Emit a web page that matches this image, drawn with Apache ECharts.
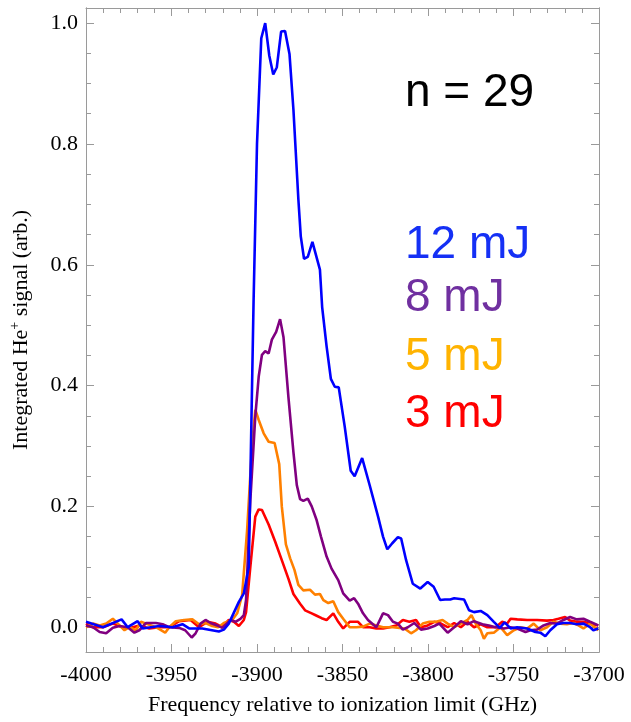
<!DOCTYPE html>
<html><head><meta charset="utf-8">
<script src="https://cdn.jsdelivr.net/npm/echarts@6/dist/echarts.min.js"></script>
<style>html,body{margin:0;padding:0;background:#fff}#c{width:631px;height:722px}</style>
</head><body><div id="c"></div>
<script>
// ---- data (frequency in GHz relative to ionization limit, integrated He+ signal) ----
const blueX = [-4000,-3990.1,-3979.2,-3975.6,-3969.8,-3966.9,-3957.2,-3949.4,-3943.6,-3939.7,-3932.0,-3922.3,-3919.4,-3916.5,-3910.6,-3907.7,-3904.8,-3902.0,-3900.0,-3897.5,-3895.2,-3892.8,-3890.5,-3888.4,-3885.9,-3883.6,-3881.0,-3878.7,-3875.8,-3874.4,-3872.5,-3870.3,-3867.6,-3863.2,-3861.9,-3859.3,-3856.8,-3854.5,-3852.2,-3848.7,-3845.2,-3842.9,-3838.5,-3834.1,-3829.2,-3826.3,-3823.8,-3820.9,-3817.6,-3815.7,-3812.8,-3808.9,-3804.5,-3800.2,-3796.7,-3792.9,-3790.1,-3787.0,-3784.7,-3778.9,-3776.0,-3773.1,-3769.2,-3765.3,-3761.5,-3758.0,-3755.2,-3751.7,-3747.9,-3742.0,-3737.2,-3734.3,-3731.4,-3728.5,-3724.6,-3720.8,-3716.9,-3713.0,-3709.1,-3705.2,-3703.3,-3700.4];
const blueY = [0.009,0,0.013,0,0.01,-0.002,0.002,0,0.005,-0.002,-0.002,-0.007,-0.004,0.006,0.042,0.056,0.10,0.54,0.80,0.975,1.0,0.946,0.915,0.927,0.986,0.987,0.949,0.857,0.708,0.647,0.61,0.613,0.638,0.592,0.53,0.465,0.411,0.398,0.397,0.332,0.259,0.25,0.28,0.235,0.183,0.15,0.129,0.139,0.149,0.147,0.111,0.072,0.064,0.075,0.067,0.045,0.046,0.046,0.048,0.046,0.028,0.025,0.027,0.02,0.009,-0.001,0.008,-0.002,0,-0.002,-0.008,-0.009,-0.015,-0.005,0.005,0.007,0.007,0.005,0.006,0,-0.005,-0.002];

const purpleX = [-4000,-3995.9,-3992.0,-3988.2,-3984.3,-3980.4,-3975.6,-3971.7,-3968.8,-3964.9,-3959.1,-3955.2,-3951.3,-3945.5,-3942.0,-3938.2,-3935.9,-3933.0,-3930.1,-3927.2,-3923.3,-3920.3,-3915.5,-3912.6,-3909.7,-3907.7,-3906.4,-3903.9,-3901.0,-3899.0,-3897.1,-3895.2,-3893.2,-3891.3,-3888.8,-3886.5,-3884.5,-3881.6,-3878.7,-3876.7,-3874.8,-3872.9,-3870.3,-3868.0,-3865.1,-3862.6,-3859.3,-3856.4,-3852.5,-3849.6,-3845.8,-3843.2,-3840.9,-3838.0,-3835.1,-3830.2,-3826.3,-3823.4,-3820.5,-3817.6,-3814.7,-3811.8,-3808.0,-3804.1,-3800.2,-3796.3,-3793.4,-3788.5,-3784.7,-3780.8,-3776.9,-3773.1,-3768.2,-3764.4,-3760.5,-3755.6,-3751.7,-3747.8,-3743.0,-3740.1,-3736.2,-3732.4,-3728.5,-3724.6,-3720.8,-3716.9,-3713.0,-3709.1,-3705.2,-3700.4];
const purpleY = [0.003,0,-0.008,-0.01,-0.001,0.002,0,-0.009,-0.005,0.007,0.007,0.005,0,-0.001,-0.005,-0.017,-0.01,0.006,0.012,0.007,0.003,-0.001,0.012,0.009,0.014,0.02,0.045,0.21,0.349,0.415,0.451,0.457,0.453,0.476,0.489,0.51,0.48,0.38,0.29,0.235,0.212,0.209,0.213,0.2,0.177,0.15,0.117,0.097,0.078,0.056,0.044,0.048,0.039,0.023,0.012,0,0.023,0.02,0.009,0.006,-0.004,0,0.007,-0.004,-0.002,0.002,0.006,-0.009,0,0.01,0.005,0.01,0.005,0.003,0,-0.002,0,-0.002,-0.008,-0.005,-0.004,0.003,0.007,0.006,0.012,0.017,0.013,0.014,0.009,0.003];

const orangeX = [-4000,-3995.9,-3992.0,-3988.2,-3984.3,-3981.4,-3977.5,-3974.6,-3970.8,-3967.8,-3964.9,-3959.1,-3953.7,-3951.3,-3947.5,-3942.6,-3937.8,-3933.9,-3930.1,-3926.2,-3922.7,-3919.4,-3914.5,-3911.6,-3908.7,-3905.8,-3902.9,-3901.0,-3899.0,-3896.1,-3893.2,-3889.7,-3887.0,-3885.5,-3883.1,-3880.6,-3878.1,-3875.8,-3872.9,-3869.0,-3866.1,-3863.2,-3861.2,-3858.3,-3855.4,-3852.5,-3849.6,-3845.8,-3841.9,-3838.0,-3834.1,-3830.2,-3826.3,-3820.5,-3816.7,-3813.8,-3809.9,-3807.0,-3803.1,-3799.2,-3795.3,-3791.5,-3788.5,-3784.7,-3780.8,-3776.9,-3774.6,-3772.1,-3769.2,-3767.3,-3765.3,-3761.5,-3757.6,-3753.7,-3749.8,-3745.9,-3742.0,-3738.2,-3734.3,-3730.4,-3726.6,-3722.7,-3718.8,-3714.9,-3712.0,-3709.1,-3705.2,-3700.4];
const orangeY = [0,0.006,0.003,0.006,0.014,0.006,-0.005,0,-0.005,0.009,0.006,0,-0.009,0,0.01,0.012,0.013,0.005,0.007,0.002,0,0.007,0.012,0.023,0.053,0.16,0.3,0.36,0.343,0.321,0.307,0.305,0.27,0.2,0.137,0.114,0.095,0.07,0.061,0.062,0.054,0.055,0.045,0.04,0.043,0.025,0.014,0,0,0.001,0.006,0.003,0,0,-0.001,-0.002,-0.01,-0.005,0.006,0.009,0.009,0.012,0.006,0,0.006,0.012,0.02,0.006,-0.005,-0.019,-0.01,-0.009,0,-0.013,-0.005,0,-0.002,0.006,-0.005,0,0.009,0.006,0.005,0.007,0.003,-0.002,0.006,-0.005];

const redX = [-4000,-3995.9,-3990.1,-3984.3,-3978.5,-3973.7,-3968.8,-3963.0,-3957.2,-3951.3,-3945.5,-3938.8,-3933.9,-3929.1,-3924.2,-3920.3,-3916.5,-3913.5,-3910.6,-3907.7,-3906.4,-3903.9,-3901.0,-3899.0,-3897.1,-3893.2,-3889.4,-3885.5,-3881.6,-3878.7,-3874.8,-3871.9,-3868.0,-3865.1,-3862.2,-3859.3,-3855.4,-3852.5,-3849.6,-3845.8,-3840.9,-3838.0,-3834.1,-3830.2,-3826.3,-3822.5,-3818.6,-3814.7,-3810.9,-3807.0,-3804.1,-3800.2,-3796.3,-3792.4,-3788.5,-3784.7,-3780.8,-3776.9,-3773.1,-3769.2,-3765.3,-3760.5,-3756.6,-3753.7,-3751.7,-3747.8,-3742.0,-3736.2,-3730.4,-3726.6,-3723.7,-3719.8,-3716.9,-3713.0,-3709.1,-3705.2,-3700.4];
const redY = [0.006,0,0,0.006,0,-0.001,0.003,-0.002,0,0,0.01,0.012,0,0.009,0.006,0,0.012,0.009,0.002,0.012,0.025,0.1,0.183,0.195,0.194,0.17,0.142,0.111,0.08,0.055,0.039,0.028,0.023,0.019,0.015,0.012,0.023,0.009,-0.002,0.009,0.009,0,0,-0.002,-0.002,0,0.003,0.012,0.009,0.012,0,0.003,0.009,0.006,0,0.007,0,0.009,0,0.005,0,0,0.009,0.006,0.014,0.013,0.012,0.012,0.011,0.012,0.014,0.017,0.011,0.009,0.009,0.006,0.003];

const yTickLabels = [0, 0.2, 0.4, 0.6, 0.8, 1.0];
const yMinorTicks = [0.05,0.1,0.15,0.25,0.3,0.35,0.45,0.5,0.55,0.65,0.7,0.75,0.85,0.9,0.95];
const annotations = [
  {text: 'n = 29', color: '#000000'},
  {text: '12 mJ', color: '#1530F5'},
  {text: '8 mJ', color: '#7030A0'},
  {text: '5 mJ', color: '#FFB300'},
  {text: '3 mJ', color: '#FF0000'}
];

// ---- build ----
const pair = (xs, ys) => xs.map((x, i) => [x, ys[i]]);
const serif = 'Liberation Serif';
const axisGray = '#9a9a9a';
const YMIN = -0.041, YMAX = 1.025;

function yAx(pos, values, len, labels) {
  return {
    type: 'value', position: pos, min: YMIN, max: YMAX,
    axisLine: {show: true, onZero: false, lineStyle: {color: axisGray, width: 1}},
    axisTick: {show: true, inside: true, length: len, customValues: values, lineStyle: {color: axisGray}},
    axisLabel: labels ? {show: true, customValues: values, formatter: v => v.toFixed(1), fontFamily: serif, fontSize: 22, color: '#000', margin: 8} : {show: false},
    splitLine: {show: false}
  };
}
function xAx(pos, labels) {
  return {
    type: 'value', position: pos, min: -4000, max: -3700, interval: 50,
    axisLine: {show: true, onZero: false, lineStyle: {color: axisGray, width: 1}},
    axisTick: {show: true, inside: true, length: 8, lineStyle: {color: axisGray}},
    minorTick: {show: true, splitNumber: 5, length: 5, lineStyle: {color: axisGray}},
    axisLabel: labels ? {show: true, formatter: v => String(Math.round(v)), fontFamily: serif, fontSize: 22, color: '#000', margin: 12} : {show: false},
    splitLine: {show: false}, minorSplitLine: {show: false}
  };
}

const xAxes = [xAx('bottom', true), xAx('top', false)];
xAxes[0].name = 'Frequency relative to ionization limit (GHz)';
xAxes[0].nameLocation = 'middle';
xAxes[0].nameGap = 42;
xAxes[0].nameTextStyle = {fontFamily: serif, fontSize: 22, color: '#000'};

const yAxes = [
  yAx('left', yTickLabels, 8, true),
  yAx('left', yMinorTicks, 5, false),
  yAx('right', yTickLabels, 8, false),
  yAx('right', yMinorTicks, 5, false)
];
yAxes[0].name = '{a|Integrated He}{s|+}{a| signal (arb.)}';
yAxes[0].nameLocation = 'middle';
yAxes[0].nameGap = 52;
yAxes[0].nameTextStyle = {
  rich: {
    a: {fontFamily: serif, fontSize: 22, color: '#000', lineHeight: 26},
    s: {fontFamily: serif, fontSize: 14, color: '#000', verticalAlign: 'top', lineHeight: 14}
  }
};

function line(name, xs, ys, color) {
  return {name, type: 'line', data: pair(xs, ys), showSymbol: false, symbol: 'none',
    lineStyle: {color, width: 2.6}, itemStyle: {color}, xAxisIndex: 0, yAxisIndex: 0, z: 3, animation: false};
}

const labelPos = [[405, 94], [405, 246], [405, 299], [405, 358], [405, 415]];
const graphics = annotations.map((a, i) => ({
  type: 'text', left: labelPos[i][0], top: labelPos[i][1] - 24,
  style: {text: a.text, fill: a.color, font: '46px "Liberation Sans", Arial, sans-serif'},
  z: 10
}));

const chart = echarts.init(document.getElementById('c'), null, {renderer: 'canvas'});
chart.setOption({
  backgroundColor: '#ffffff',
  animation: false,
  grid: {left: 83, top: 8, right: 32, bottom: 70, containLabel: false},
  xAxis: xAxes,
  yAxis: yAxes,
  series: [
    line('3 mJ', redX, redY, '#FF0000'),
    line('5 mJ', orangeX, orangeY, '#FF8000'),
    line('8 mJ', purpleX, purpleY, '#800080'),
    line('12 mJ', blueX, blueY, '#0000FF')
  ],
  graphic: graphics
});
</script></body></html>
